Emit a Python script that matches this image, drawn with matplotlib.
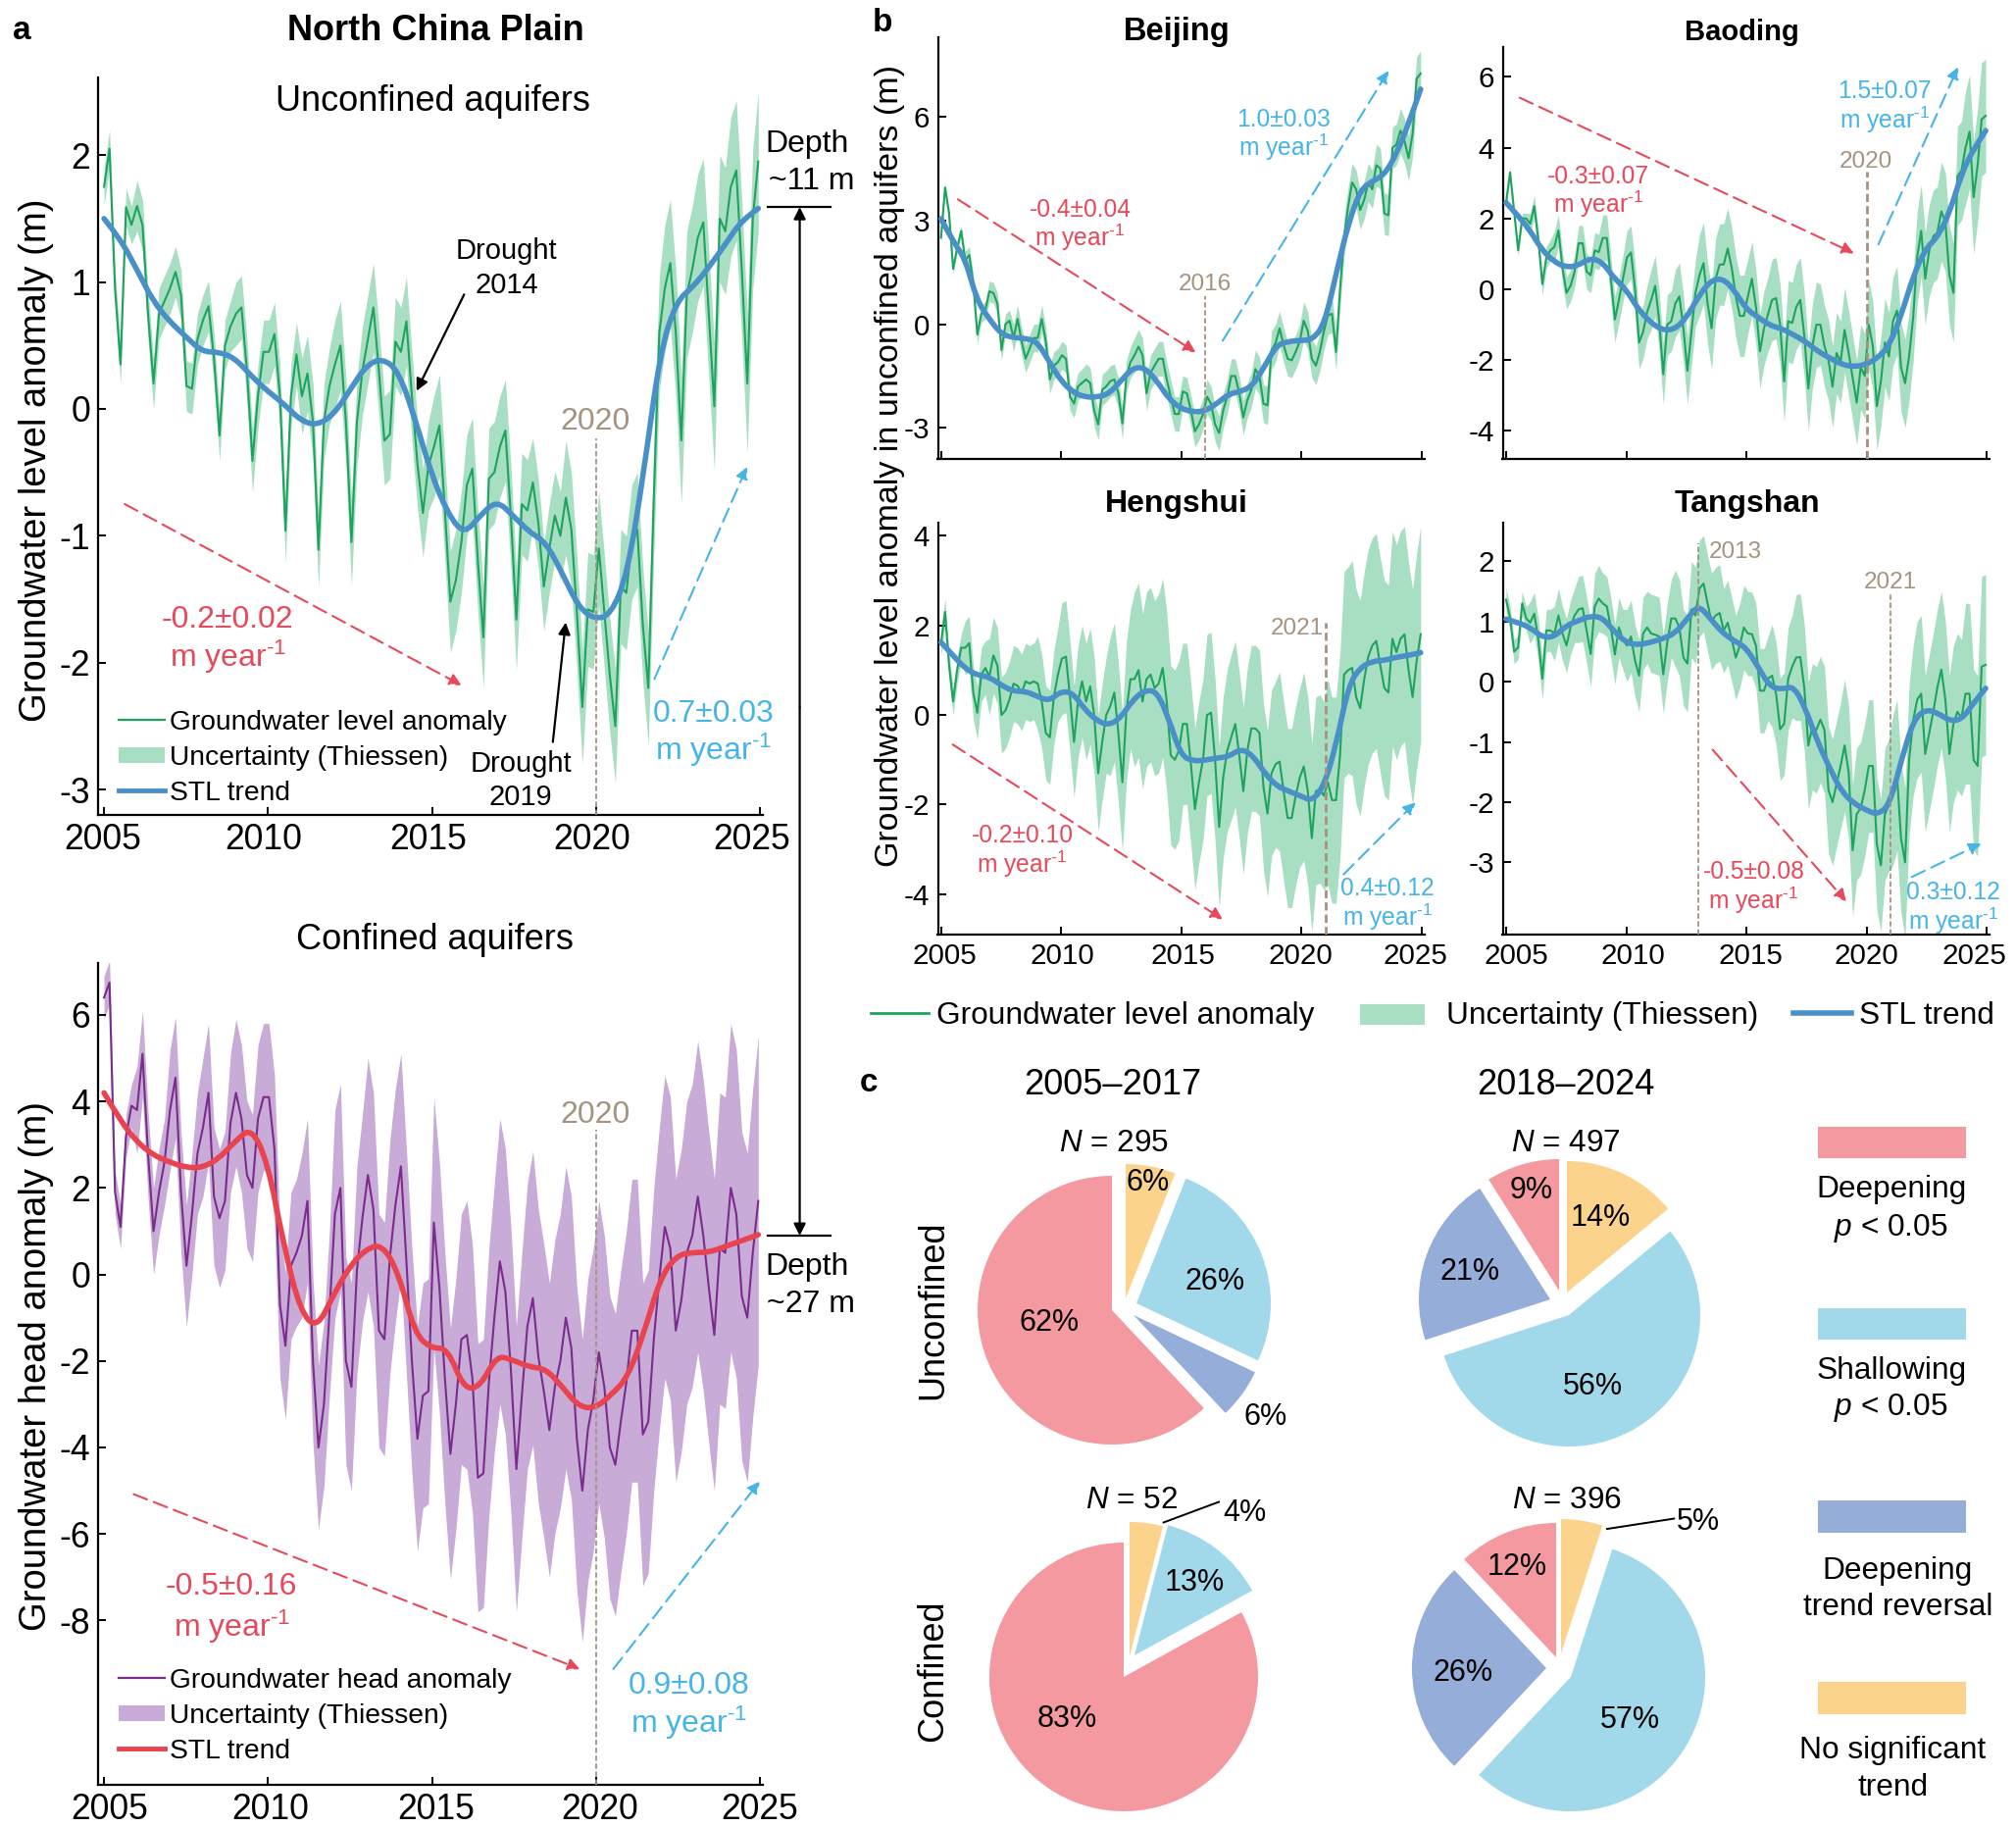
import numpy as np
import matplotlib
matplotlib.use('Agg')
import matplotlib.pyplot as plt
from matplotlib.path import Path
from matplotlib.patches import PathPatch
from matplotlib.transforms import ScaledTranslation

plt.rcParams['font.family'] = ['Liberation Sans', 'DejaVu Sans']
plt.rcParams['axes.unicode_minus'] = False
plt.rcParams['mathtext.fontset'] = 'custom'
plt.rcParams['mathtext.rm'] = 'Liberation Sans'
plt.rcParams['mathtext.it'] = 'Liberation Sans:italic'
plt.rcParams['mathtext.bf'] = 'Liberation Sans:bold'
plt.rcParams['mathtext.default'] = 'regular'

# %% Data: six samples per year, 2005-2024
ncp_level = [
    1.75, 2.05, 0.95, 0.35, 1.59, 1.45,
    1.6, 1.45, 0.75, 0.2, 0.75, 0.85,
    0.95, 1.08, 0.9, 0.18, 0.16, 0.55,
    0.7, 0.81, 0.4, -0.21, 0.5, 0.65,
    0.75, 0.8, 0.3, -0.41, 0.1, 0.45,
    0.45, 0.59, 0.1, -0.96, 0.1, 0.43,
    0.1, 0.28, -0.1, -1.11, -0.1, 0.18,
    0.35, 0.5, -0.1, -1.05, -0.1, 0.3,
    0.55, 0.8, 0.3, -0.25, -0.2, 0.53,
    0.45, 0.69, 0.1, -0.43, -0.82, -0.45,
    -0.3, -0.13, -0.8, -1.52, -1.35, -1.05,
    -0.6, -0.47, -1.2, -1.8, -0.55, -0.5,
    -0.3, -0.17, -0.85, -1.66, -0.75, -0.8,
    -0.58, -0.9, -1.4, -1.1, -0.84, -1.0,
    -0.7, -0.95, -1.6, -2.35, -1.58, -1.6,
    -1.1, -1.6, -2.1, -2.5, -1.4, -1.45,
    -1.05, -0.95, -1.7, -2.2, -0.7, 0.6,
    0.95, 1.15, 0.6, -0.25, 0.9, 1.1,
    1.35, 1.47, 0.75, 0.02, 1.5, 1.4,
    1.75, 1.88, 1.1, 0.2, 1.5, 1.95]
ncp_level_err = [0.15, 0.2, 0.2, 0.2, 0.25, 0.25, 0.3, 0.35, 0.35, 0.35,
                 0.4, 0.4, 0.4, 0.35, 0.45, 0.45, 0.45, 0.5, 0.5, 0.55]
ncp_level_trend = [1.5, 1.34, 1.1, 0.85, 0.69, 0.57, 0.45, 0.45, 0.4, 0.26,
                   0.14, 0.04, -0.09, -0.13, -0.05, 0.14, 0.34, 0.4, 0.3, -0.07,
                   -0.51, -0.82, -0.99, -0.84, -0.72, -0.84, -0.97, -1.05, -1.29, -1.56,
                   -1.66, -1.62, -1.3, -0.5, 0.45, 0.85, 0.96, 1.12, 1.3, 1.49, 1.58]

ncp_head = [
    6.4, 6.75, 1.9, 1.1, 3.2, 3.9,
    3.8, 5.1, 2.8, 1.0, 1.9, 2.6,
    3.8, 4.55, 1.9, 0.2, 1.4, 2.8,
    3.4, 4.2, 1.8, 1.3, 1.7, 3.5,
    4.2, 3.6, 2.3, 2.0, 3.6, 4.1,
    4.1, 2.9, -0.7, -1.65, 0.2, 0.5,
    0.9, 1.7, -2.0, -4.0, -3.0, -0.9,
    1.4, 2.0, -2.0, -2.6, 0.1, 1.3,
    2.3, 1.5, -1.3, -1.5, 0.4, 1.6,
    2.5, 0.3, -2.0, -3.8, -2.8, -2.7,
    1.2, -0.3, -2.4, -4.15, -3.0, -1.5,
    -1.4, -2.4, -4.7, -4.6, -2.5, -1.0,
    0.3, -0.4, -2.2, -4.5, -2.8, -1.2,
    -0.55, -1.9, -2.7, -3.6, -2.6, -2.0,
    -1.0, -1.7, -3.8, -5.0, -3.6, -2.9,
    -1.8, -2.6, -4.0, -4.4, -3.4, -2.5,
    -1.3, -1.3, -3.7, -3.4, -1.5, -0.1,
    1.1, 0.6, -1.3, -0.6, 0.5, 0.9,
    1.8, 0.9, -0.3, -1.4, 0.6, 0.5,
    2.0, 1.4, -0.5, -1.0, 0.5, 1.7]
ncp_head_err = [0.5, 1.0, 1.4, 1.6, 1.7, 1.7, 1.9, 2.4, 2.7, 2.6,
                2.9, 3.1, 3.3, 3.4, 3.5, 3.5, 3.5, 3.5, 3.6, 3.8]
ncp_head_trend = [4.2, 3.55, 3.07, 2.76, 2.6, 2.47, 2.47, 2.67, 3.07, 3.4,
                  2.6, 0.65, -0.85, -1.25, -0.5, 0.18, 0.58, 0.7, 0.04, -1.37,
                  -1.71, -1.7, -2.65, -2.6, -1.87, -1.98, -2.14, -2.18, -2.59, -3.05,
                  -3.1, -2.79, -2.39, -1.37, -0.09, 0.44, 0.51, 0.51, 0.65, 0.78, 0.92]

beijing = [
    2.5, 3.95, 3.2, 1.6, 2.2, 2.7,
    1.85, 2.0, 1.2, -0.3, 0.3, 0.4,
    0.95, 0.9, 0.6, -0.75, 0.0, 0.1,
    -0.4, 0.15, -0.5, -1.0, -0.7, -0.4,
    -0.4, 0.15, -0.5, -1.6, -1.2, -1.1,
    -0.9, -1.0, -2.1, -2.3, -1.8, -1.7,
    -1.6, -1.7, -2.5, -2.9, -1.9, -1.8,
    -1.65, -1.6, -2.0, -2.87, -1.5, -1.1,
    -0.9, -0.65, -0.9, -2.0, -1.4, -1.2,
    -1.0, -1.0, -1.6, -2.1, -2.6, -2.6,
    -1.95, -2.0, -2.5, -3.1, -2.9, -2.6,
    -2.1, -2.3, -2.9, -3.15, -2.5, -2.1,
    -1.5, -1.5, -2.0, -2.7, -2.2, -1.9,
    -1.3, -1.5, -2.3, -2.35, -0.75, -0.55,
    -0.12, -0.6, -1.0, -1.05, -0.8, -0.5,
    0.1, -0.2, -1.0, -1.2, -0.8, -0.2,
    0.25, 0.3, -0.8, 1.0, 2.5, 3.4,
    4.1, 3.9, 3.3, 3.6, 4.1, 3.9,
    4.6, 4.5, 3.2, 3.15, 5.1, 5.2,
    5.6, 5.3, 4.8, 5.5, 7.1, 7.25]
beijing_err = [0.15, 0.25, 0.3, 0.4, 0.4, 0.4, 0.45, 0.45, 0.5, 0.5,
               0.45, 0.5, 0.5, 0.55, 0.5, 0.55, 0.55, 0.55, 0.6, 0.65]
beijing_trend = [3.05, 2.39, 1.91, 0.68, 0.16, -0.28, -0.39, -0.41, -0.5, -1.07,
                 -1.64, -1.97, -2.11, -2.11, -2.02, -1.64, -1.26, -1.26, -1.64, -2.16,
                 -2.44, -2.54, -2.52, -2.3, -2.02, -1.95, -1.78, -1.21, -0.6, -0.5,
                 -0.47, -0.45, 0.02, 1.53, 2.95, 3.9, 4.14, 4.33, 4.94, 5.8, 6.8]

baoding = [
    2.45, 3.3, 2.2, 1.1, 2.0, 2.0,
    1.85, 2.35, 1.4, 0.15, 0.9, 1.1,
    1.2, 1.66, 0.6, -0.1, 0.1, 0.5,
    1.3, 1.3, 0.5, 0.4, 1.1, 1.05,
    1.45, 1.45, 0.3, -0.85, -0.3, 0.3,
    0.9, 1.04, 0.0, -1.5, -1.2, -0.65,
    -0.3, 0.1, -0.9, -2.4, -1.0, -0.9,
    -0.4, -0.2, -1.1, -2.3, -1.2, -0.1,
    0.4, 0.74, -0.4, -1.1, 0.3, 0.7,
    0.7, 1.15, 0.6, -0.2, -0.75, -0.75,
    -0.2, 0.3, -0.5, -1.75, -1.1, -0.7,
    -0.3, -0.25, -1.0, -2.6, -0.9, -0.95,
    -0.5, -0.3, -1.3, -2.8, -1.6, -1.0,
    -1.0, -1.6, -2.0, -2.75, -1.8, -2.05,
    -1.15, -1.8, -2.5, -3.2, -2.2, -2.45,
    -1.0, -1.6, -3.3, -2.6, -1.5, -1.9,
    -0.9, -0.6, -2.2, -2.65, -1.9, -0.8,
    0.9, 1.65, 0.3, 1.1, 1.5, 1.6,
    2.2, 1.9, 0.4, -0.1, 3.2, 3.35,
    4.0, 4.45, 2.6, 3.5, 4.8, 4.9]
baoding_err = [0.15, 0.3, 0.45, 0.5, 0.65, 0.75, 0.85, 0.95, 1.15, 1.15,
               1.05, 1.15, 1.2, 1.15, 1.2, 1.25, 1.25, 1.3, 1.4, 1.6]
baoding_trend = [2.45, 2.08, 1.66, 1.11, 0.78, 0.62, 0.67, 0.88, 0.78, 0.32,
                 0.0, -0.55, -0.92, -1.15, -1.14, -0.83, -0.23, 0.23, 0.32, 0.0,
                 -0.55, -0.78, -1.02, -1.11, -1.29, -1.48, -1.75, -1.94, -2.12, -2.19,
                 -2.12, -1.94, -1.57, -0.69, 0.42, 1.15, 1.48, 2.17, 3.28, 3.97, 4.48]

hengshui = [
    1.6, 2.3, 1.1, 0.3, 1.0, 1.5,
    1.5, 1.6, 0.5, 0.05, 0.9, 1.05,
    0.85, 1.33, 1.1, 0.0, 0.1, 0.35,
    0.7, 0.65, 0.5, 0.75, 0.7, 0.75,
    0.7, 0.3, -0.4, -0.5, 0.4, 0.9,
    1.26, 1.3, 0.4, -0.6, 0.3, 0.75,
    0.3, 0.64, 0.0, -1.3, -0.6, 0.0,
    0.2, 0.5, -0.4, -1.5, 0.1, 0.8,
    0.8, 1.0, 0.3, 0.8, 0.9, 0.6,
    0.7, 1.05, 0.3, -0.9, -1.0, -0.8,
    -0.2, -0.2, -1.1, -2.1, -1.5, -1.0,
    0.0, 0.05, -1.0, -2.5, -1.4, -0.8,
    -0.5, -0.2, -0.9, -1.7, -0.8, -0.3,
    -0.3, -0.4, -1.6, -2.2, -1.3, -1.1,
    -1.04, -1.7, -2.3, -2.3, -1.8, -1.4,
    -1.15, -1.7, -2.75, -1.7, -1.65, -1.8,
    -1.5, -1.9, -1.9, -0.9, 0.9, 1.0,
    1.05, 0.4, 0.15, 0.8, 1.3, 1.55,
    1.65, 1.1, 0.6, 0.5, 1.7, 1.4,
    1.7, 1.8, 1.0, 0.4, 1.2, 1.8]
hengshui_err = [0.3, 0.6, 0.85, 0.85, 1.05, 1.25, 1.3, 1.55, 1.95, 2.0,
                1.8, 1.8, 1.85, 1.85, 2.0, 2.1, 2.3, 2.4, 2.4, 2.4]
hengshui_trend = [1.62, 1.33, 1.04, 0.89, 0.85, 0.67, 0.53, 0.53, 0.42, 0.31,
                  0.53, 0.49, 0.12, -0.13, -0.23, -0.06, 0.34, 0.55, 0.53, -0.09,
                  -0.9, -1.03, -1.01, -0.96, -0.93, -0.75, -0.9, -1.3, -1.59, -1.7,
                  -1.81, -1.92, -1.55, -0.6, 0.67, 1.07, 1.2, 1.22, 1.29, 1.33, 1.39]

tangshan = [
    1.36, 1.06, 0.5, 0.57, 1.3, 1.05,
    0.98, 1.13, 0.7, 0.05, 0.85, 0.85,
    0.8, 1.1, 0.8, 0.6, 0.9, 1.1,
    1.2, 1.22, 0.85, 0.46, 1.25, 1.38,
    1.3, 1.25, 0.9, 0.45, 0.9, 0.7,
    0.6, 0.75, 0.35, 0.1, 0.8, 0.9,
    0.8, 0.78, 0.75, 0.12, 0.65, 1.05,
    1.05, 0.9, 0.4, 0.3, 1.2, 1.1,
    1.55, 1.63, 1.3, 1.0, 1.1, 1.14,
    0.85, 0.98, 0.7, 0.4, 0.6, 0.9,
    0.8, 0.79, 0.6, -0.15, -0.15, 0.05,
    0.1, -0.2, -0.79, -0.7, 0.05, 0.25,
    0.4, 0.41, -0.1, -1.06, -0.75, -0.8,
    -0.63, -0.8, -1.8, -2.0, -1.7, -1.4,
    -1.06, -1.5, -2.8, -2.2, -2.1, -1.8,
    -1.4, -1.4, -2.7, -3.05, -2.2, -2.05,
    -1.8, -1.55, -2.6, -3.0, -1.3, -0.65,
    -0.3, -0.2, -1.2, -0.85, -0.5, -0.1,
    0.2, -0.3, -1.2, -0.7, -0.5, -0.6,
    -0.2, -0.2, -1.3, -1.4, 0.25, 0.28]
tangshan_err = [0.2, 0.35, 0.45, 0.55, 0.5, 0.6, 0.65, 0.8, 0.8, 0.7,
                0.7, 0.85, 1.05, 1.05, 1.1, 1.1, 1.25, 1.3, 1.3, 1.5]
tangshan_trend = [1.04, 0.98, 0.9, 0.74, 0.74, 0.93, 1.01, 1.09, 1.07, 0.84,
                  0.65, 0.61, 0.65, 0.71, 0.79, 1.01, 1.28, 1.06, 0.82, 0.68,
                  0.57, 0.25, -0.08, -0.13, -0.07, -0.46, -1.01, -1.44, -1.83, -2.02,
                  -2.13, -2.21, -2.04, -1.28, -0.63, -0.46, -0.52, -0.65, -0.63, -0.35, -0.11]

# shares clockwise from the top: no trend, shallowing, trend reversal, deepening
pie_unconf_early = [6, 26, 6, 62]
pie_unconf_late = [14, 56, 21, 9]
pie_conf_early = [4, 13, 0, 83]
pie_conf_late = [5, 57, 26, 12]

t_line = np.linspace(2005, 2024.95, 120)
t_trend = np.linspace(2005, 2024.95, 41)
year_ticks = [2005, 2010, 2015, 2020, 2025]

GREEN, GREEN_BAND, BLUE_TREND = '#1EA35E', '#A8DFC3', '#4A90C8'
PURPLE, PURPLE_BAND, RED_TREND = '#7A2C8C', '#C8ABD6', '#E8434F'
ARROW_RED, ARROW_BLUE, BROWN = '#E6495C', '#45B5E6', '#A59380'
PIE_COLORS = ['#FBD38D', '#A1D8EA', '#94ADD9', '#F4999F']

# %% Layout helpers
W, H = 2056, 1862
S = W / 1568   # positions below were read on a 1568 px wide view
fig = plt.figure(figsize=(W / 100, H / 100), dpi=100)


def panel(l, r, t, b, xlim, ylim, yticks, labels=True, fs=21.3, nudge=None):
    ax = fig.add_axes([l / W, 1 - b / H, (r - l) / W, (b - t) / H])
    ax.set_xlim(xlim)
    ax.set_ylim(ylim)
    ax.set_xticks(year_ticks)
    ax.set_yticks(yticks)
    ax.set_xticklabels(year_ticks if labels else [])
    ax.set_yticklabels(yticks)
    ax.tick_params(direction='in', length=6, width=1.4, labelsize=fs, pad=6)
    ax.spines[['top', 'right']].set_visible(False)
    ax.spines[['left', 'bottom']].set_linewidth(1.6)
    ax.patch.set_alpha(0)
    if nudge:
        # the year labels sit a few pixels off their ticks in the original
        for lab, dx in zip(ax.get_xticklabels(), nudge):
            lab.set_transform(lab.get_transform() + ScaledTranslation(dx / 100, 0, fig.dpi_scale_trans))
    return ax


def series(ax, line, err, trend, c_line=GREEN, c_band=GREEN_BAND, c_trend=BLUE_TREND, lw=1.5):
    line = np.array(line)
    half = np.repeat(err, 6)
    ax.fill_between(t_line, line - half, line + half, color=c_band, lw=0, zorder=1)
    ax.plot(t_line, line, color=c_line, lw=lw, zorder=2)
    # trend is drawn as a curve that bends at the read values
    pts = np.column_stack([t_trend, trend])
    verts = [pts[0]]
    for i in range(1, len(pts) - 1):
        end = pts[i + 1] if i == len(pts) - 2 else (pts[i] + pts[i + 1]) / 2
        verts += [pts[i], end]
    codes = [Path.MOVETO] + [Path.CURVE3] * (len(verts) - 1)
    ax.add_patch(PathPatch(Path(verts, codes), fill=False, ec=c_trend, lw=4, zorder=3, capstyle='round'))


def marker_line(ax, x, top, lw=1.3):
    ax.plot([x, x], [ax.get_ylim()[0], top], color=BROWN, lw=lw, ls=(0, (3, 1.5)), zorder=4)


# %% Panel a
ax_level = panel(100.4, 778, 78.5, 831, (2004.83, 2025.09), (-3.2, 2.616), [-3, -2, -1, 0, 1, 2],
                 fs=25.6, nudge=[-1, -5, -4, -4, -8])
series(ax_level, ncp_level, ncp_level_err, ncp_level_trend)
marker_line(ax_level, 2020, -0.23)

ax_head = panel(100.4, 778, 982, 1820, (2004.83, 2025.09), (-11.8, 7.2), [-8, -6, -4, -2, 0, 2, 4, 6],
                fs=25.6, nudge=[6, 2, 4, 4, 0])
series(ax_head, ncp_head, ncp_head_err, ncp_head_trend, PURPLE, PURPLE_BAND, RED_TREND)
marker_line(ax_head, 2020, 3.34)

# %% Panel b
ax_bj = panel(956.5, 1453, 38, 468, (2004.87, 2025.12), (-3.9, 8.3), [-3, 0, 3, 6], labels=False)
series(ax_bj, beijing, beijing_err, beijing_trend)
marker_line(ax_bj, 2016, 0.82)

ax_bd = panel(1532.5, 2029, 48, 468, (2004.86, 2025.11), (-4.79, 6.84), [-4, -2, 0, 2, 4, 6], labels=False)
series(ax_bd, baoding, baoding_err, baoding_trend)
marker_line(ax_bd, 2020, 3.32, lw=2)

ax_hs = panel(956.5, 1453, 533, 953, (2004.87, 2025.12), (-4.9, 4.29), [-4, -2, 0, 2, 4],
              nudge=[4, 1, 2, -1, -7])
series(ax_hs, hengshui, hengshui_err, hengshui_trend)
marker_line(ax_hs, 2021, 2.06, lw=2)

ax_ts = panel(1532.5, 2029, 533, 953, (2004.86, 2025.11), (-4.2, 2.64), [-3, -2, -1, 0, 1, 2],
              nudge=[10, 7, 4, 0, -13])
series(ax_ts, tangshan, tangshan_err, tangshan_trend)
marker_line(ax_ts, 2013, 2.29)
marker_line(ax_ts, 2021, 1.47)

# %% Overlay for the notes and the pies, in figure pixels
ov = fig.add_axes([0, 0, 1, 1])


def P(x, y):
    return x * S, H - y * S


def txt(x, y, s, fs, color='black', **kw):
    kw.setdefault('ha', 'center')
    ov.text(*P(x, y + 4), s, fontsize=fs, color=color, va='center', **kw)


def arrow(x0, y0, x1, y1, color, dashed=True, lw=1.5, ms=18):
    ov.annotate('', xy=P(x1, y1), xytext=P(x0, y0),
                arrowprops=dict(arrowstyle='-|>', color=color, lw=lw, mutation_scale=ms,
                                ls=(0, (7, 3.5)) if dashed else '-', shrinkA=0, shrinkB=0))


def rate(x, y, dy, value, color, fs):
    txt(x, y, value, fs, color)
    txt(x, y + dy, 'm year$^{‐1}$', fs, color)


txt(339, 20, 'North China Plain', 26, fontweight='bold')
txt(337, 75, 'Unconfined aquifers', 26)
txt(338, 727, 'Confined aquifers', 26)
txt(17, 20, 'a', 24, fontweight='bold')
txt(686, 14, 'b', 24, fontweight='bold')
txt(676, 838, 'c', 24, fontweight='bold')
txt(28, 354, 'Groundwater level anomaly (m)', 27.5, rotation=90)
txt(28, 1058, 'Groundwater head anomaly (m)', 27.5, rotation=90)
txt(692, 358, 'Groundwater level anomaly in unconfined aquifers (m)', 24.5, rotation=90)
txt(915, 21, 'Beijing', 23.5, fontweight='bold')
txt(1355, 21, 'Baoding', 21, fontweight='bold')
txt(915, 388, 'Hengshui', 23, fontweight='bold')
txt(1359, 388, 'Tangshan', 23, fontweight='bold')

# panel a notes
arrow(97, 392, 359, 533, ARROW_RED)
arrow(509, 528, 581, 363, ARROW_BLUE)
rate(177, 478, 29, '-0.2±0.02', ARROW_RED, 23)
rate(555, 551, 28, '0.7±0.03', ARROW_BLUE, 23)
txt(463, 324, '2020', 23, BROWN)
txt(394, 191, 'Drought', 21)
txt(394, 218, '2014', 21)
arrow(361, 229, 324, 304, 'black', dashed=False, lw=1.6)
txt(405, 590, 'Drought', 21)
txt(405, 616, '2019', 21)
arrow(430, 577, 440, 484, 'black', dashed=False, lw=1.6)

arrow(104, 1162, 451, 1298, ARROW_RED)
arrow(477, 1298, 591, 1152, ARROW_BLUE)
rate(180, 1230, 31, '-0.5±0.16', ARROW_RED, 23)
rate(536, 1307, 29, '0.9±0.08', ARROW_BLUE, 23)
txt(463, 863, '2020', 23, BROWN)

# depth bar between the two left panels
for y in [161, 961]:
    ov.plot([597 * S, 646 * S], [H - y * S] * 2, color='black', lw=1.6)
arrow(622, 550, 622, 161, 'black', dashed=False, lw=1.6)
arrow(622, 550, 622, 961, 'black', dashed=False, lw=1.6)
txt(628, 108, 'Depth', 23)
txt(631, 137, '~11 m', 23)
txt(628, 981, 'Depth', 23)
txt(631, 1010, '~27 m', 23)

# legends of panel a
for y0, c_line, c_band, c_trend, name in [(560, GREEN, GREEN_BAND, BLUE_TREND, 'Groundwater level anomaly'),
                                          (1305, PURPLE, PURPLE_BAND, RED_TREND, 'Groundwater head anomaly')]:
    dy = 27.5
    ov.plot([92 * S, 128 * S], [H - y0 * S] * 2, color=c_line, lw=1.6)
    ov.fill_between([92 * S, 128 * S], H - (y0 + dy - 6) * S, H - (y0 + dy + 6) * S, color=c_band, lw=0)
    ov.plot([92 * S, 128 * S], [H - (y0 + 2 * dy) * S] * 2, color=c_trend, lw=3.5)
    txt(132, y0 - 2, name, 20.3, ha='left')
    txt(132, y0 + dy - 2, 'Uncertainty (Thiessen)', 20.3, ha='left')
    txt(132, y0 + 2 * dy - 2, 'STL trend', 20.3, ha='left')

# panel b notes
arrow(745, 155, 930, 274, ARROW_RED)
arrow(951, 265, 1080, 55, ARROW_BLUE)
rate(840, 159, 22, '-0.4±0.04', ARROW_RED, 17.7)
rate(998, 89, 22, '1.0±0.03', ARROW_BLUE, 17.7)
txt(937, 217, '2016', 17.5, BROWN)

arrow(1182, 76, 1442, 197, ARROW_RED)
arrow(1461, 190, 1523, 52, ARROW_BLUE)
rate(1243, 133, 22, '-0.3±0.07', ARROW_RED, 17.7)
rate(1466, 67, 22, '1.5±0.07', ARROW_BLUE, 17.7)
txt(1451, 122, '2020', 17.5, BROWN)

arrow(741, 579, 951, 715, ARROW_RED)
arrow(1045, 680, 1101, 624, ARROW_BLUE)
rate(795, 646, 22, '-0.2±0.10', ARROW_RED, 17.7)
rate(1079, 687, 22, '0.4±0.12', ARROW_BLUE, 17.7)
txt(1009, 485, '2021', 17.5, BROWN)

arrow(1332, 583, 1436, 701, ARROW_RED)
arrow(1487, 682, 1541, 656, ARROW_BLUE)
rate(1364, 674, 22, '-0.5±0.08', ARROW_RED, 17.7)
rate(1519, 690, 22, '0.3±0.12', ARROW_BLUE, 17.7)
txt(1350, 425, '2013', 17.5, BROWN)
txt(1470, 449, '2021', 17.5, BROWN)

# legend under panel b
ov.plot([677 * S, 722 * S], [H - 788 * S] * 2, color=GREEN, lw=2)
txt(728, 786, 'Groundwater level anomaly', 22.8, ha='left')
ov.fill_between([1058 * S, 1108 * S], H - 781 * S, H - 797 * S, color=GREEN_BAND, lw=0)
txt(1125, 786, 'Uncertainty (Thiessen)', 22.8, ha='left')
ov.plot([1395 * S, 1440 * S], [H - 788 * S] * 2, color=BLUE_TREND, lw=4)
txt(1446, 786, 'STL trend', 22.8, ha='left')

# %% Panel c
pies = [(pie_unconf_early, 1134, 1336, 137, [(14, -12), (25, -7), (22, 5), (0, 0)]),
        (pie_unconf_late, 1600, 1341, 134, [(-2, -23), (0, 0), (-19, -16), (-10, -25)]),
        (pie_conf_early, 1146, 1710, 137, [(6, -21), (11, -22), (0, 0), (0, 0)]),
        (pie_conf_late, 1602, 1710, 137, [(-10, -24), (0, 0), (-25, -9), (-15, -20)])]
for shares, cx, cy, r, shifts in pies:
    wedges, _ = ov.pie(shares, colors=PIE_COLORS, startangle=90, counterclock=False,
                       center=(cx, H - cy), radius=r, frame=True)
    for w, (dx, dy) in zip(wedges, shifts):
        w.set_center((cx + dx, H - cy - dy))

for x, y, s in [(816, 1025, '62%'), (945, 993, '26%'), (893, 916, '6%'), (984, 1098, '6%'),
                (1191, 922, '9%'), (1245, 943, '14%'), (1143, 985, '21%'), (1239, 1074, '56%'),
                (830, 1333, '83%'), (929, 1227, '13%'), (968, 1173, '4%'),
                (1180, 1215, '12%'), (1321, 1180, '5%'), (1138, 1297, '26%'), (1268, 1334, '57%')]:
    txt(x, y, s, 22)
ov.plot([905 * S, 948 * S], [H - 1184 * S, H - 1168 * S], color='black', lw=1.4)
ov.plot([1250 * S, 1302 * S], [H - 1189 * S, H - 1181 * S], color='black', lw=1.4)

txt(866, 885, '$\\mathit{N}$ = 295', 22.7)
txt(1218, 885, '$\\mathit{N}$ = 497', 22.7)
txt(880, 1163, '$\\mathit{N}$ = 52', 22.7)
txt(1219, 1163, '$\\mathit{N}$ = 396', 22.7)
txt(865, 840, '2005–2017', 26)
txt(1218, 840, '2018–2024', 26)
txt(726, 1015, 'Unconfined', 26, rotation=90)
txt(726, 1295, 'Confined', 26, rotation=90)

for y0, c in zip([876, 1017, 1167, 1308], ['#F4999F', '#A1D8EA', '#94ADD9', '#FBD38D']):
    ov.fill_between([1414 * S, 1529 * S], H - y0 * S, H - (y0 + 25) * S, color=c, lw=0)
txt(1471, 921, 'Deepening', 22.8)
txt(1471, 951, '$\\mathit{p}$ < 0.05', 22.8)
txt(1471, 1062, 'Shallowing', 22.8)
txt(1471, 1091, '$\\mathit{p}$ < 0.05', 22.8)
txt(1476, 1218, 'Deepening', 22.8)
txt(1476, 1246, 'trend reversal', 22.8)
txt(1472, 1357, 'No significant', 22.8)
txt(1472, 1386, 'trend', 22.8)

ov.set_xlim(0, W)
ov.set_ylim(0, H)
ov.set_axis_off()

fig.savefig('out.png', dpi=100)
